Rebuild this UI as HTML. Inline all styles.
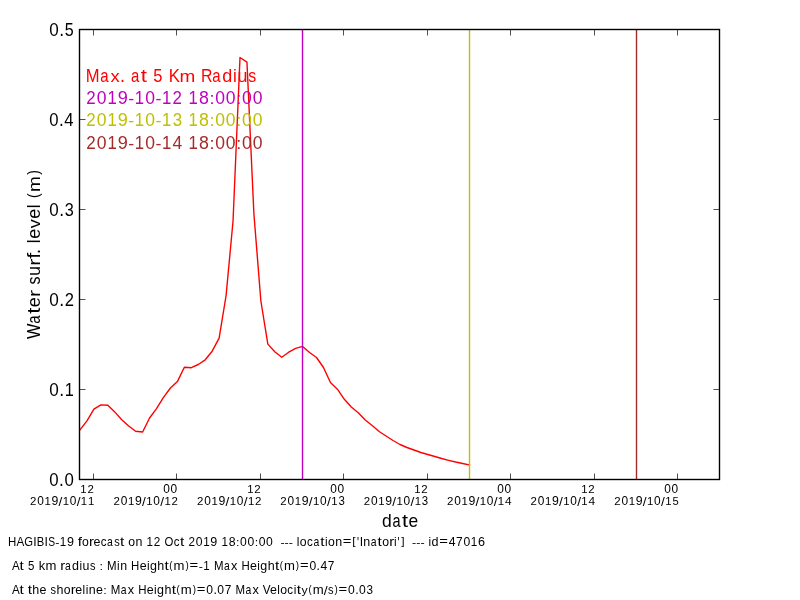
<!DOCTYPE html>
<html><head><meta charset="utf-8"><style>
html,body{margin:0;padding:0;background:#fff;width:800px;height:600px;overflow:hidden}
svg{display:block;will-change:transform}
text{font-family:"Liberation Sans",sans-serif;white-space:pre}
</style></head><body>
<svg width="800" height="600" viewBox="0 0 800 600">
<rect width="800" height="600" fill="#fff"/>
<clipPath id="c"><rect x="80" y="30" width="640" height="450"/></clipPath>
<polyline clip-path="url(#c)" points="80.00,429.90 86.96,420.80 93.91,409.10 100.87,404.90 107.83,405.20 114.78,411.90 121.74,419.70 128.70,426.00 135.65,431.30 142.61,432.00 149.57,418.00 156.52,408.70 163.48,397.30 170.43,388.00 177.39,381.60 184.35,367.30 191.30,367.70 198.26,364.50 205.22,359.80 212.17,351.20 219.13,338.20 226.09,295.50 233.04,221.00 240.00,57.50 246.96,62.10 253.91,214.00 260.87,301.00 267.83,344.10 274.78,351.70 281.74,357.20 288.70,352.20 295.65,348.40 302.61,346.40 309.57,352.50 316.52,357.50 323.48,367.50 330.43,382.50 337.39,389.20 344.35,399.30 351.30,407.00 358.26,412.80 365.22,420.00 372.17,425.50 379.13,431.50 386.09,436.00 393.04,440.50 400.00,444.50 406.96,447.50 413.91,450.00 420.87,452.50 427.83,454.50 434.78,456.50 441.74,458.50 448.70,460.30 455.65,462.00 462.61,463.50 469.57,465.00" fill="none" stroke="#ff0000" stroke-width="1.39" stroke-linejoin="round" stroke-linecap="square"/>
<line x1="302.5" y1="30" x2="302.5" y2="480" stroke="#bf00bf" stroke-width="1.39"/>
<line x1="469.5" y1="30" x2="469.5" y2="480" stroke="#bfbf00" stroke-width="1.39"/>
<line x1="636.5" y1="30" x2="636.5" y2="480" stroke="#a52a2a" stroke-width="1.39"/>
<path d="M79.5,479.5H85.5M719.5,479.5H713.5M79.5,389.5H85.5M719.5,389.5H713.5M79.5,299.5H85.5M719.5,299.5H713.5M79.5,209.5H85.5M719.5,209.5H713.5M79.5,119.5H85.5M719.5,119.5H713.5M79.5,29.5H85.5M719.5,29.5H713.5M93.5,479.5V473.5M93.5,29.5V35.5M176.5,479.5V473.5M176.5,29.5V35.5M260.5,479.5V473.5M260.5,29.5V35.5M343.5,479.5V473.5M343.5,29.5V35.5M427.5,479.5V473.5M427.5,29.5V35.5M510.5,479.5V473.5M510.5,29.5V35.5M594.5,479.5V473.5M594.5,29.5V35.5M677.5,479.5V473.5M677.5,29.5V35.5" stroke="#000" stroke-width="0.69" fill="none"/>
<rect x="79.5" y="29.5" width="640" height="450" fill="none" stroke="#000" stroke-width="1.39"/>
<g fill="#000" font-size="17.66"><text transform="translate(49.24,486.06) scale(0.952,1.008)">0</text><text transform="translate(59.12,486.00) scale(0.977,1.095)">.</text><text transform="translate(64.46,486.06) scale(0.952,1.008)">0</text></g>
<g fill="#000" font-size="17.66"><text transform="translate(49.23,396.06) scale(0.969,1.008)">0</text><text transform="translate(59.29,396.00) scale(0.994,1.095)">.</text><text transform="translate(64.86,396.00) scale(0.925,1.000)">1</text></g>
<g fill="#000" font-size="17.66"><text transform="translate(49.23,306.06) scale(0.974,1.008)">0</text><text transform="translate(59.34,306.00) scale(1.000,1.095)">.</text><text transform="translate(64.76,306.00) scale(0.939,1.003)">2</text></g>
<g fill="#000" font-size="17.66"><text transform="translate(49.24,216.06) scale(0.961,1.008)">0</text><text transform="translate(59.21,216.00) scale(0.986,1.095)">.</text><text transform="translate(64.80,216.06) scale(0.923,1.008)">3</text></g>
<g fill="#000" font-size="17.66"><text transform="translate(49.25,126.06) scale(0.945,1.008)">0</text><text transform="translate(59.06,126.00) scale(0.970,1.095)">.</text><text transform="translate(64.35,126.00) scale(0.945,1.000)">4</text></g>
<g fill="#000" font-size="17.66"><text transform="translate(49.23,36.06) scale(0.966,1.008)">0</text><text transform="translate(59.26,36.00) scale(0.991,1.095)">.</text><text transform="translate(64.87,36.06) scale(0.911,1.005)">5</text></g>
<g fill="#000" font-size="11.77"><text transform="translate(80.35,493.00) scale(0.965,1.000)">1</text><text transform="translate(87.41,493.00) scale(0.974,1.003)">2</text></g>
<g fill="#000" font-size="11.77"><text transform="translate(30.05,505.00) scale(0.974,1.003)">2</text><text transform="translate(37.26,505.04) scale(1.011,1.008)">0</text><text transform="translate(44.53,505.00) scale(0.965,1.000)">1</text><text transform="translate(51.48,505.04) scale(1.044,1.008)">9</text><text transform="translate(58.52,505.91) scale(1.163,1.056)">/</text><text transform="translate(62.70,505.00) scale(0.965,1.000)">1</text><text transform="translate(69.79,505.04) scale(1.011,1.008)">0</text><text transform="translate(76.69,505.91) scale(1.163,1.056)">/</text><text transform="translate(80.87,505.00) scale(0.965,1.000)">1</text><text transform="translate(88.05,505.00) scale(0.965,1.000)">1</text></g>
<g fill="#000" font-size="11.77"><text transform="translate(163.36,493.04) scale(1.011,1.008)">0</text><text transform="translate(170.54,493.04) scale(1.011,1.008)">0</text></g>
<g fill="#000" font-size="11.77"><text transform="translate(113.61,505.00) scale(0.974,1.003)">2</text><text transform="translate(120.82,505.04) scale(1.011,1.008)">0</text><text transform="translate(128.10,505.00) scale(0.965,1.000)">1</text><text transform="translate(135.04,505.04) scale(1.044,1.008)">9</text><text transform="translate(142.09,505.91) scale(1.163,1.056)">/</text><text transform="translate(146.27,505.00) scale(0.965,1.000)">1</text><text transform="translate(153.35,505.04) scale(1.011,1.008)">0</text><text transform="translate(160.25,505.91) scale(1.163,1.056)">/</text><text transform="translate(164.43,505.00) scale(0.965,1.000)">1</text><text transform="translate(171.49,505.00) scale(0.974,1.003)">2</text></g>
<g fill="#000" font-size="11.77"><text transform="translate(247.31,493.00) scale(0.965,1.000)">1</text><text transform="translate(254.37,493.00) scale(0.974,1.003)">2</text></g>
<g fill="#000" font-size="11.77"><text transform="translate(197.09,505.00) scale(0.974,1.003)">2</text><text transform="translate(204.30,505.04) scale(1.011,1.008)">0</text><text transform="translate(211.58,505.00) scale(0.965,1.000)">1</text><text transform="translate(218.52,505.04) scale(1.044,1.008)">9</text><text transform="translate(225.57,505.91) scale(1.163,1.056)">/</text><text transform="translate(229.74,505.00) scale(0.965,1.000)">1</text><text transform="translate(236.83,505.04) scale(1.011,1.008)">0</text><text transform="translate(243.73,505.91) scale(1.163,1.056)">/</text><text transform="translate(247.91,505.00) scale(0.965,1.000)">1</text><text transform="translate(254.97,505.00) scale(0.974,1.003)">2</text></g>
<g fill="#000" font-size="11.77"><text transform="translate(330.31,493.04) scale(1.011,1.008)">0</text><text transform="translate(337.50,493.04) scale(1.011,1.008)">0</text></g>
<g fill="#000" font-size="11.77"><text transform="translate(280.34,505.00) scale(0.974,1.003)">2</text><text transform="translate(287.55,505.04) scale(1.011,1.008)">0</text><text transform="translate(294.83,505.00) scale(0.965,1.000)">1</text><text transform="translate(301.77,505.04) scale(1.044,1.008)">9</text><text transform="translate(308.82,505.91) scale(1.163,1.056)">/</text><text transform="translate(313.00,505.00) scale(0.965,1.000)">1</text><text transform="translate(320.08,505.04) scale(1.011,1.008)">0</text><text transform="translate(326.99,505.91) scale(1.163,1.056)">/</text><text transform="translate(331.16,505.00) scale(0.965,1.000)">1</text><text transform="translate(338.39,505.04) scale(0.971,1.008)">3</text></g>
<g fill="#000" font-size="11.77"><text transform="translate(414.27,493.00) scale(0.965,1.000)">1</text><text transform="translate(421.32,493.00) scale(0.974,1.003)">2</text></g>
<g fill="#000" font-size="11.77"><text transform="translate(363.82,505.00) scale(0.974,1.003)">2</text><text transform="translate(371.03,505.04) scale(1.011,1.008)">0</text><text transform="translate(378.31,505.00) scale(0.965,1.000)">1</text><text transform="translate(385.25,505.04) scale(1.044,1.008)">9</text><text transform="translate(392.30,505.91) scale(1.163,1.056)">/</text><text transform="translate(396.47,505.00) scale(0.965,1.000)">1</text><text transform="translate(403.56,505.04) scale(1.011,1.008)">0</text><text transform="translate(410.46,505.91) scale(1.163,1.056)">/</text><text transform="translate(414.64,505.00) scale(0.965,1.000)">1</text><text transform="translate(421.87,505.04) scale(0.971,1.008)">3</text></g>
<g fill="#000" font-size="11.77"><text transform="translate(497.27,493.04) scale(1.011,1.008)">0</text><text transform="translate(504.45,493.04) scale(1.011,1.008)">0</text></g>
<g fill="#000" font-size="11.77"><text transform="translate(447.03,505.00) scale(0.974,1.003)">2</text><text transform="translate(454.24,505.04) scale(1.011,1.008)">0</text><text transform="translate(461.52,505.00) scale(0.965,1.000)">1</text><text transform="translate(468.46,505.04) scale(1.044,1.008)">9</text><text transform="translate(475.51,505.91) scale(1.163,1.056)">/</text><text transform="translate(479.68,505.00) scale(0.965,1.000)">1</text><text transform="translate(486.77,505.04) scale(1.011,1.008)">0</text><text transform="translate(493.67,505.91) scale(1.163,1.056)">/</text><text transform="translate(497.85,505.00) scale(0.965,1.000)">1</text><text transform="translate(504.93,505.00) scale(1.011,1.000)">4</text></g>
<g fill="#000" font-size="11.77"><text transform="translate(581.22,493.00) scale(0.965,1.000)">1</text><text transform="translate(588.28,493.00) scale(0.974,1.003)">2</text></g>
<g fill="#000" font-size="11.77"><text transform="translate(530.51,505.00) scale(0.974,1.003)">2</text><text transform="translate(537.72,505.04) scale(1.011,1.008)">0</text><text transform="translate(545.00,505.00) scale(0.965,1.000)">1</text><text transform="translate(551.94,505.04) scale(1.044,1.008)">9</text><text transform="translate(558.98,505.91) scale(1.163,1.056)">/</text><text transform="translate(563.16,505.00) scale(0.965,1.000)">1</text><text transform="translate(570.25,505.04) scale(1.011,1.008)">0</text><text transform="translate(577.15,505.91) scale(1.163,1.056)">/</text><text transform="translate(581.33,505.00) scale(0.965,1.000)">1</text><text transform="translate(588.41,505.00) scale(1.011,1.000)">4</text></g>
<g fill="#000" font-size="11.77"><text transform="translate(664.23,493.04) scale(1.011,1.008)">0</text><text transform="translate(671.41,493.04) scale(1.011,1.008)">0</text></g>
<g fill="#000" font-size="11.77"><text transform="translate(614.34,505.00) scale(0.974,1.003)">2</text><text transform="translate(621.55,505.04) scale(1.011,1.008)">0</text><text transform="translate(628.83,505.00) scale(0.965,1.000)">1</text><text transform="translate(635.77,505.04) scale(1.044,1.008)">9</text><text transform="translate(642.81,505.91) scale(1.163,1.056)">/</text><text transform="translate(646.99,505.00) scale(0.965,1.000)">1</text><text transform="translate(654.08,505.04) scale(1.011,1.008)">0</text><text transform="translate(660.98,505.91) scale(1.163,1.056)">/</text><text transform="translate(665.16,505.00) scale(0.965,1.000)">1</text><text transform="translate(672.39,505.04) scale(0.954,1.005)">5</text></g>
<g fill="#ff0000" font-size="17.66"><text transform="translate(85.84,82.00) scale(0.939,1.000)">M</text><text transform="translate(100.28,82.07) scale(0.846,0.989)">a</text><text transform="translate(110.38,82.00) scale(1.044,0.977)">x</text><text transform="translate(120.08,82.00) scale(1.019,1.095)">.</text><text transform="translate(130.88,82.07) scale(0.846,0.989)">a</text><text transform="translate(140.81,81.86) scale(1.258,1.013)">t</text><text transform="translate(153.13,82.06) scale(0.936,1.005)">5</text><text transform="translate(168.63,82.00) scale(0.949,1.000)">K</text><text transform="translate(179.53,82.00) scale(1.073,0.982)">m</text><text transform="translate(201.09,82.00) scale(0.900,1.000)">R</text><text transform="translate(212.31,82.07) scale(0.846,0.989)">a</text><text transform="translate(222.29,82.06) scale(1.023,0.995)">d</text><text transform="translate(233.12,82.00) scale(0.962,0.990)">i</text><text transform="translate(237.56,82.06) scale(1.015,1.007)">u</text><text transform="translate(248.31,82.06) scale(0.902,0.992)">s</text></g>
<g fill="#bf00bf" font-size="17.66"><text transform="translate(86.17,104.00) scale(0.959,1.003)">2</text><text transform="translate(96.82,104.06) scale(0.995,1.008)">0</text><text transform="translate(107.56,104.00) scale(0.950,1.000)">1</text><text transform="translate(117.82,104.06) scale(1.028,1.008)">9</text><text transform="translate(128.24,103.97) scale(1.017,0.967)">-</text><text transform="translate(134.79,104.00) scale(0.950,1.000)">1</text><text transform="translate(145.26,104.06) scale(0.995,1.008)">0</text><text transform="translate(155.47,103.97) scale(1.017,0.967)">-</text><text transform="translate(162.02,104.00) scale(0.950,1.000)">1</text><text transform="translate(172.44,104.00) scale(0.959,1.003)">2</text><text transform="translate(188.53,104.00) scale(0.950,1.000)">1</text><text transform="translate(198.94,104.06) scale(1.006,1.008)">8</text><text transform="translate(209.50,104.00) scale(1.021,0.924)">:</text><text transform="translate(215.22,104.06) scale(0.995,1.008)">0</text><text transform="translate(225.82,104.06) scale(0.995,1.008)">0</text><text transform="translate(236.32,104.00) scale(1.021,0.924)">:</text><text transform="translate(242.05,104.06) scale(0.995,1.008)">0</text><text transform="translate(252.65,104.06) scale(0.995,1.008)">0</text></g>
<g fill="#bfbf00" font-size="17.66"><text transform="translate(86.17,126.00) scale(0.959,1.003)">2</text><text transform="translate(96.82,126.06) scale(0.995,1.008)">0</text><text transform="translate(107.56,126.00) scale(0.950,1.000)">1</text><text transform="translate(117.82,126.06) scale(1.028,1.008)">9</text><text transform="translate(128.24,125.97) scale(1.017,0.967)">-</text><text transform="translate(134.79,126.00) scale(0.950,1.000)">1</text><text transform="translate(145.26,126.06) scale(0.995,1.008)">0</text><text transform="translate(155.47,125.97) scale(1.017,0.967)">-</text><text transform="translate(162.02,126.00) scale(0.950,1.000)">1</text><text transform="translate(172.70,126.06) scale(0.955,1.008)">3</text><text transform="translate(188.53,126.00) scale(0.950,1.000)">1</text><text transform="translate(198.94,126.06) scale(1.006,1.008)">8</text><text transform="translate(209.50,126.00) scale(1.021,0.924)">:</text><text transform="translate(215.22,126.06) scale(0.995,1.008)">0</text><text transform="translate(225.82,126.06) scale(0.995,1.008)">0</text><text transform="translate(236.32,126.00) scale(1.021,0.924)">:</text><text transform="translate(242.05,126.06) scale(0.995,1.008)">0</text><text transform="translate(252.65,126.06) scale(0.995,1.008)">0</text></g>
<g fill="#a52a2a" font-size="17.66"><text transform="translate(86.17,148.80) scale(0.959,1.003)">2</text><text transform="translate(96.82,148.86) scale(0.995,1.008)">0</text><text transform="translate(107.56,148.80) scale(0.950,1.000)">1</text><text transform="translate(117.82,148.86) scale(1.028,1.008)">9</text><text transform="translate(128.24,148.77) scale(1.017,0.967)">-</text><text transform="translate(134.79,148.80) scale(0.950,1.000)">1</text><text transform="translate(145.26,148.86) scale(0.995,1.008)">0</text><text transform="translate(155.47,148.77) scale(1.017,0.967)">-</text><text transform="translate(162.02,148.80) scale(0.950,1.000)">1</text><text transform="translate(172.48,148.80) scale(0.995,1.000)">4</text><text transform="translate(188.53,148.80) scale(0.950,1.000)">1</text><text transform="translate(198.94,148.86) scale(1.006,1.008)">8</text><text transform="translate(209.50,148.80) scale(1.021,0.924)">:</text><text transform="translate(215.22,148.86) scale(0.995,1.008)">0</text><text transform="translate(225.82,148.86) scale(0.995,1.008)">0</text><text transform="translate(236.32,148.80) scale(1.021,0.924)">:</text><text transform="translate(242.05,148.86) scale(0.995,1.008)">0</text><text transform="translate(252.65,148.86) scale(0.995,1.008)">0</text></g>
<g fill="#000" font-size="17.66"><text transform="translate(382.01,527.06) scale(0.993,0.995)">d</text><text transform="translate(392.46,527.07) scale(0.822,0.989)">a</text><text transform="translate(402.11,526.86) scale(1.221,1.013)">t</text><text transform="translate(408.48,527.07) scale(0.987,0.989)">e</text></g>
<g transform="translate(40,339.00) rotate(-90)"><g fill="#000" font-size="17.66"><text transform="translate(-0.07,0.00) scale(0.930,1.000)">W</text><text transform="translate(15.23,0.07) scale(0.849,0.989)">a</text><text transform="translate(25.19,-0.14) scale(1.261,1.013)">t</text><text transform="translate(31.77,0.07) scale(1.019,0.989)">e</text><text transform="translate(41.97,0.00) scale(1.209,0.982)">r</text><text transform="translate(54.48,0.06) scale(0.905,0.992)">s</text><text transform="translate(62.96,0.06) scale(1.018,1.007)">u</text><text transform="translate(73.37,0.00) scale(1.209,0.982)">r</text><text transform="translate(80.20,0.00) scale(1.239,0.991)">f</text><text transform="translate(84.92,0.00) scale(1.021,1.095)">.</text><text transform="translate(95.80,0.00) scale(0.965,0.990)">l</text><text transform="translate(100.17,0.07) scale(1.019,0.989)">e</text><text transform="translate(110.70,0.00) scale(1.018,0.977)">v</text><text transform="translate(120.29,0.07) scale(1.019,0.989)">e</text><text transform="translate(130.81,0.00) scale(0.965,0.990)">l</text><text transform="translate(140.88,-1.10) scale(0.798,0.902)">(</text><text transform="translate(147.08,0.00) scale(1.075,0.982)">m</text><text transform="translate(164.31,-1.10) scale(0.798,0.902)">)</text></g></g>
<g fill="#000" font-size="12.19"><text transform="translate(8.06,545.70) scale(0.942,1.000)">H</text><text transform="translate(16.61,545.70) scale(0.954,1.000)">A</text><text transform="translate(24.32,545.74) scale(0.924,1.008)">G</text><text transform="translate(33.19,545.70) scale(1.002,1.000)">I</text><text transform="translate(36.80,545.70) scale(0.920,1.000)">B</text><text transform="translate(44.52,545.70) scale(1.002,1.000)">I</text><text transform="translate(48.21,545.74) scale(0.844,1.008)">S</text><text transform="translate(55.25,545.68) scale(1.021,0.967)">-</text><text transform="translate(59.79,545.70) scale(0.954,1.000)">1</text><text transform="translate(66.89,545.74) scale(1.031,1.008)">9</text><text transform="translate(77.81,545.70) scale(1.244,0.991)">f</text><text transform="translate(81.95,545.75) scale(1.007,0.989)">o</text><text transform="translate(88.96,545.70) scale(1.214,0.982)">r</text><text transform="translate(93.49,545.75) scale(1.023,0.989)">e</text><text transform="translate(100.63,545.75) scale(0.950,0.989)">c</text><text transform="translate(107.08,545.75) scale(0.852,0.989)">a</text><text transform="translate(114.22,545.74) scale(0.908,0.992)">s</text><text transform="translate(119.99,545.60) scale(1.266,1.013)">t</text><text transform="translate(128.23,545.75) scale(1.007,0.989)">o</text><text transform="translate(135.40,545.70) scale(1.021,0.982)">n</text><text transform="translate(146.54,545.70) scale(0.954,1.000)">1</text><text transform="translate(153.76,545.70) scale(0.963,1.003)">2</text><text transform="translate(164.62,545.74) scale(0.936,1.008)">O</text><text transform="translate(173.75,545.75) scale(0.950,0.989)">c</text><text transform="translate(180.03,545.60) scale(1.266,1.013)">t</text><text transform="translate(188.40,545.70) scale(0.963,1.003)">2</text><text transform="translate(195.77,545.74) scale(0.999,1.008)">0</text><text transform="translate(203.22,545.70) scale(0.954,1.000)">1</text><text transform="translate(210.31,545.74) scale(1.031,1.008)">9</text><text transform="translate(221.57,545.70) scale(0.954,1.000)">1</text><text transform="translate(228.78,545.74) scale(1.009,1.008)">8</text><text transform="translate(236.09,545.70) scale(1.025,0.924)">:</text><text transform="translate(240.05,545.74) scale(0.999,1.008)">0</text><text transform="translate(247.40,545.74) scale(0.999,1.008)">0</text><text transform="translate(254.67,545.70) scale(1.025,0.924)">:</text><text transform="translate(258.63,545.74) scale(0.999,1.008)">0</text><text transform="translate(265.97,545.74) scale(0.999,1.008)">0</text><text transform="translate(280.38,545.68) scale(1.021,0.967)">-</text><text transform="translate(284.55,545.68) scale(1.021,0.967)">-</text><text transform="translate(288.71,545.68) scale(1.021,0.967)">-</text><text transform="translate(296.83,545.70) scale(0.968,0.990)">l</text><text transform="translate(299.86,545.75) scale(1.007,0.989)">o</text><text transform="translate(306.95,545.75) scale(0.950,0.989)">c</text><text transform="translate(313.40,545.75) scale(0.852,0.989)">a</text><text transform="translate(320.30,545.60) scale(1.266,1.013)">t</text><text transform="translate(325.05,545.70) scale(0.968,0.990)">i</text><text transform="translate(328.08,545.75) scale(1.007,0.989)">o</text><text transform="translate(335.24,545.70) scale(1.021,0.982)">n</text><text transform="translate(342.83,545.42) scale(1.221,0.826)">=</text><text transform="translate(352.14,544.93) scale(0.987,0.903)">[</text><text transform="translate(357.08,547.23) scale(0.875,1.182)">&#39;</text><text transform="translate(359.69,545.70) scale(1.002,1.000)">I</text><text transform="translate(363.31,545.70) scale(1.021,0.982)">n</text><text transform="translate(370.66,545.75) scale(0.852,0.989)">a</text><text transform="translate(377.56,545.60) scale(1.266,1.013)">t</text><text transform="translate(382.13,545.75) scale(1.007,0.989)">o</text><text transform="translate(389.13,545.70) scale(1.214,0.982)">r</text><text transform="translate(394.11,545.70) scale(0.968,0.990)">i</text><text transform="translate(397.59,547.23) scale(0.875,1.182)">&#39;</text><text transform="translate(401.22,544.93) scale(0.987,0.903)">]</text><text transform="translate(412.05,545.68) scale(1.021,0.967)">-</text><text transform="translate(416.21,545.68) scale(1.021,0.967)">-</text><text transform="translate(420.38,545.68) scale(1.021,0.967)">-</text><text transform="translate(428.50,545.70) scale(0.968,0.990)">i</text><text transform="translate(431.52,545.74) scale(1.030,0.995)">d</text><text transform="translate(439.23,545.42) scale(1.221,0.826)">=</text><text transform="translate(448.69,545.70) scale(0.999,1.000)">4</text><text transform="translate(456.09,545.70) scale(0.977,1.000)">7</text><text transform="translate(463.38,545.74) scale(0.999,1.008)">0</text><text transform="translate(470.82,545.70) scale(0.954,1.000)">1</text><text transform="translate(477.95,545.74) scale(1.033,1.008)">6</text></g>
<g fill="#000" font-size="12.19"><text transform="translate(11.88,569.70) scale(0.951,1.000)">A</text><text transform="translate(19.55,569.60) scale(1.261,1.013)">t</text><text transform="translate(28.07,569.74) scale(0.939,1.005)">5</text><text transform="translate(38.79,569.70) scale(1.055,0.990)">k</text><text transform="translate(45.45,569.70) scale(1.075,0.982)">m</text><text transform="translate(60.19,569.70) scale(1.209,0.982)">r</text><text transform="translate(65.11,569.75) scale(0.849,0.989)">a</text><text transform="translate(72.01,569.74) scale(1.026,0.995)">d</text><text transform="translate(79.50,569.70) scale(0.965,0.990)">i</text><text transform="translate(82.57,569.74) scale(1.017,1.007)">u</text><text transform="translate(90.00,569.74) scale(0.905,0.992)">s</text><text transform="translate(99.55,569.70) scale(1.021,0.924)">:</text><text transform="translate(107.05,569.70) scale(0.941,1.000)">M</text><text transform="translate(117.08,569.70) scale(0.965,0.990)">i</text><text transform="translate(120.20,569.70) scale(1.017,0.982)">n</text><text transform="translate(131.11,569.70) scale(0.939,1.000)">H</text><text transform="translate(139.68,569.75) scale(1.019,0.989)">e</text><text transform="translate(146.94,569.70) scale(0.965,0.990)">i</text><text transform="translate(149.95,569.63) scale(1.026,0.974)">g</text><text transform="translate(157.32,569.70) scale(1.025,0.990)">h</text><text transform="translate(164.51,569.60) scale(1.261,1.013)">t</text><text transform="translate(169.32,568.94) scale(0.798,0.902)">(</text><text transform="translate(173.60,569.70) scale(1.075,0.982)">m</text><text transform="translate(185.49,568.94) scale(0.798,0.902)">)</text><text transform="translate(189.61,569.42) scale(1.216,0.826)">=</text><text transform="translate(198.76,569.68) scale(1.017,0.967)">-</text><text transform="translate(203.28,569.70) scale(0.950,1.000)">1</text><text transform="translate(214.06,569.70) scale(0.941,1.000)">M</text><text transform="translate(224.05,569.75) scale(0.849,0.989)">a</text><text transform="translate(231.03,569.70) scale(1.047,0.977)">x</text><text transform="translate(241.49,569.70) scale(0.939,1.000)">H</text><text transform="translate(250.06,569.75) scale(1.019,0.989)">e</text><text transform="translate(257.32,569.70) scale(0.965,0.990)">i</text><text transform="translate(260.33,569.63) scale(1.026,0.974)">g</text><text transform="translate(267.70,569.70) scale(1.025,0.990)">h</text><text transform="translate(274.88,569.60) scale(1.261,1.013)">t</text><text transform="translate(279.70,568.94) scale(0.798,0.902)">(</text><text transform="translate(283.98,569.70) scale(1.075,0.982)">m</text><text transform="translate(295.87,568.94) scale(0.798,0.902)">)</text><text transform="translate(299.99,569.42) scale(1.216,0.826)">=</text><text transform="translate(309.41,569.74) scale(0.995,1.008)">0</text><text transform="translate(316.54,569.70) scale(1.021,1.095)">.</text><text transform="translate(320.38,569.70) scale(0.995,1.000)">4</text><text transform="translate(327.75,569.70) scale(0.973,1.000)">7</text></g>
<g fill="#000" font-size="12.19"><text transform="translate(11.88,593.70) scale(0.953,1.000)">A</text><text transform="translate(19.57,593.60) scale(1.264,1.013)">t</text><text transform="translate(27.75,593.60) scale(1.264,1.013)">t</text><text transform="translate(32.37,593.70) scale(1.027,0.990)">h</text><text transform="translate(39.60,593.75) scale(1.022,0.989)">e</text><text transform="translate(50.57,593.74) scale(0.907,0.992)">s</text><text transform="translate(56.43,593.70) scale(1.027,0.990)">h</text><text transform="translate(63.68,593.75) scale(1.005,0.989)">o</text><text transform="translate(70.67,593.70) scale(1.212,0.982)">r</text><text transform="translate(75.20,593.75) scale(1.022,0.989)">e</text><text transform="translate(82.47,593.70) scale(0.967,0.990)">l</text><text transform="translate(85.68,593.70) scale(0.967,0.990)">i</text><text transform="translate(88.81,593.70) scale(1.020,0.982)">n</text><text transform="translate(96.00,593.75) scale(1.022,0.989)">e</text><text transform="translate(103.19,593.70) scale(1.023,0.924)">:</text><text transform="translate(110.71,593.70) scale(0.943,1.000)">M</text><text transform="translate(120.72,593.75) scale(0.850,0.989)">a</text><text transform="translate(127.72,593.70) scale(1.049,0.977)">x</text><text transform="translate(138.20,593.70) scale(0.941,1.000)">H</text><text transform="translate(146.79,593.75) scale(1.022,0.989)">e</text><text transform="translate(154.07,593.70) scale(0.967,0.990)">i</text><text transform="translate(157.08,593.63) scale(1.028,0.974)">g</text><text transform="translate(164.47,593.70) scale(1.027,0.990)">h</text><text transform="translate(171.67,593.60) scale(1.264,1.013)">t</text><text transform="translate(176.50,592.94) scale(0.799,0.902)">(</text><text transform="translate(180.78,593.70) scale(1.078,0.982)">m</text><text transform="translate(192.70,592.94) scale(0.799,0.902)">)</text><text transform="translate(196.82,593.42) scale(1.219,0.826)">=</text><text transform="translate(206.27,593.74) scale(0.997,1.008)">0</text><text transform="translate(213.41,593.70) scale(1.023,1.095)">.</text><text transform="translate(217.26,593.74) scale(0.997,1.008)">0</text><text transform="translate(224.65,593.70) scale(0.975,1.000)">7</text><text transform="translate(235.49,593.70) scale(0.943,1.000)">M</text><text transform="translate(245.50,593.75) scale(0.850,0.989)">a</text><text transform="translate(252.50,593.70) scale(1.049,0.977)">x</text><text transform="translate(262.83,593.70) scale(0.960,1.000)">V</text><text transform="translate(269.89,593.75) scale(1.022,0.989)">e</text><text transform="translate(277.17,593.70) scale(0.967,0.990)">l</text><text transform="translate(280.20,593.75) scale(1.005,0.989)">o</text><text transform="translate(287.27,593.75) scale(0.949,0.989)">c</text><text transform="translate(293.76,593.70) scale(0.967,0.990)">i</text><text transform="translate(296.74,593.60) scale(1.264,1.013)">t</text><text transform="translate(301.50,593.64) scale(1.016,0.968)">y</text><text transform="translate(308.39,592.94) scale(0.799,0.902)">(</text><text transform="translate(312.67,593.70) scale(1.078,0.982)">m</text><text transform="translate(323.72,594.64) scale(1.147,1.056)">/</text><text transform="translate(327.92,593.74) scale(0.907,0.992)">s</text><text transform="translate(334.48,592.94) scale(0.799,0.902)">)</text><text transform="translate(338.60,593.42) scale(1.219,0.826)">=</text><text transform="translate(348.05,593.74) scale(0.997,1.008)">0</text><text transform="translate(355.19,593.70) scale(1.023,1.095)">.</text><text transform="translate(359.04,593.74) scale(0.997,1.008)">0</text><text transform="translate(366.52,593.74) scale(0.957,1.008)">3</text></g>
</svg>
</body></html>
